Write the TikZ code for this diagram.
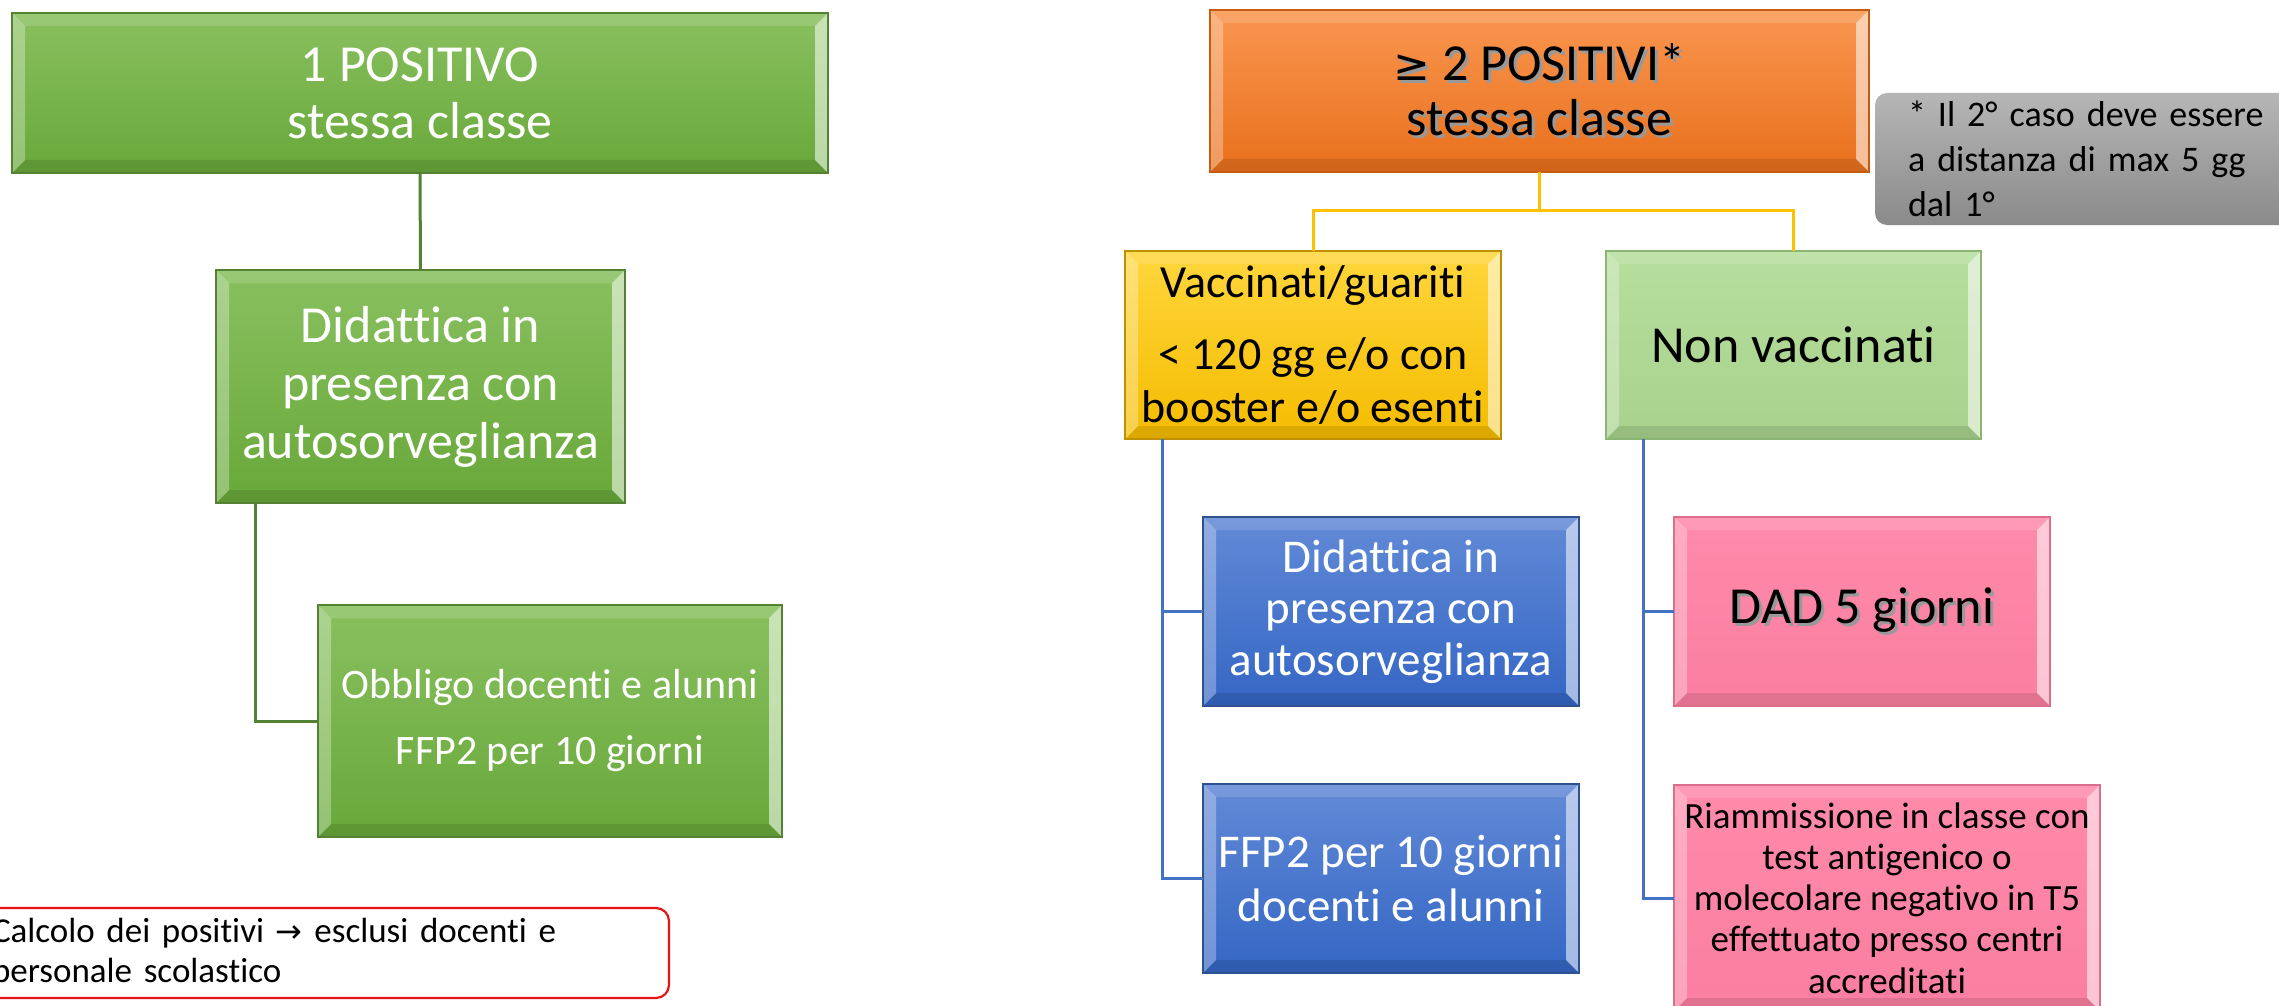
\documentclass[tikz,border=0pt]{standalone}
\usepackage{fontspec}
\setmainfont{Carlito}[Ligatures=NoCommon]
\newfontfamily\dejavu{DejaVu Sans}
\definecolor{gtop}{RGB}{137,192,95}
\definecolor{gbot}{RGB}{104,168,58}
\definecolor{gborder}{RGB}{84,130,53}
\definecolor{otop}{RGB}{250,150,80}
\definecolor{obot}{RGB}{232,112,28}
\definecolor{oborder}{RGB}{197,90,17}
\definecolor{ytop}{RGB}{255,214,60}
\definecolor{ybot}{RGB}{245,188,0}
\definecolor{yborder}{RGB}{191,144,0}
\definecolor{yconn}{RGB}{255,192,0}
\definecolor{lgtop}{RGB}{182,222,158}
\definecolor{lgbot}{RGB}{168,210,140}
\definecolor{lgborder}{RGB}{140,180,115}
\definecolor{btop}{RGB}{98,138,215}
\definecolor{bbot}{RGB}{52,102,196}
\definecolor{bborder}{RGB}{47,82,143}
\definecolor{bconn}{RGB}{68,114,196}
\definecolor{ptop}{RGB}{255,138,170}
\definecolor{pbot}{RGB}{250,126,160}
\definecolor{pborder}{RGB}{220,110,140}
\definecolor{grtop}{RGB}{182,182,182}
\definecolor{grbot}{RGB}{138,138,138}
\definecolor{rednote}{RGB}{230,20,20}
\newcommand{\shd}[1]{\leavevmode\rlap{\hspace{3pt}\raisebox{-3pt}{\textcolor{black!40}{#1}}}#1}
\begin{document}
\begin{tikzpicture}[x=1pt,y=-1pt,
  every node/.style={inner sep=0pt, outer sep=0pt, align=center},
  bevel/.style={path picture={
    \coordinate (bnw) at (path picture bounding box.north west);
    \coordinate (bse) at (path picture bounding box.south east);
    \coordinate (bsw) at (path picture bounding box.south west);
    \coordinate (bne) at (path picture bounding box.north east);
    \fill[white,opacity=0.14] (bnw) -- (bne) -- ([shift={(-13pt,-13pt)}]bne) -- ([shift={(13pt,-13pt)}]bnw) -- cycle;
    \fill[black,opacity=0.10] (bsw) -- (bse) -- ([shift={(-13pt,13pt)}]bse) -- ([shift={(13pt,13pt)}]bsw) -- cycle;
    \fill[white,opacity=0.30] (bnw) -- (bsw) -- ([shift={(13pt,13pt)}]bsw) -- ([shift={(13pt,-13pt)}]bnw) -- cycle;
    \fill[white,opacity=0.55] (bne) -- (bse) -- ([shift={(-13pt,13pt)}]bse) -- ([shift={(-13pt,-13pt)}]bne) -- cycle;
  }},
  box/.style n args={4}{top color=#1, bottom color=#2, draw=#3, text=#4, line width=1.2pt, bevel},
  gbox/.style={box={gtop}{gbot}{gborder}{white}},
  obox/.style={box={otop}{obot}{oborder}{black}},
  ybox/.style={box={ytop}{ybot}{yborder}{black}},
  lgbox/.style={box={lgtop}{lgbot}{lgborder}{black}},
  bbox/.style={box={btop}{bbot}{bborder}{white}},
  pbox/.style={box={ptop}{pbot}{pborder}{black}},
  gline/.style={draw=gborder, line width=3pt},
  yline/.style={draw=yconn, line width=3pt},
  bline/.style={draw=bconn, line width=3pt},
]
\useasboundingbox (0,0) rectangle (2279,1006);
\clip (0,0) rectangle (2279,1006);

% left column
\node[gbox, minimum width=816, minimum height=160, font=\fontsize{52}{57}\selectfont] (A) at (420,93)
  {1 POSITIVO\\stessa classe};
\node[gbox, minimum width=409, minimum height=233, font=\fontsize{52}{58}\selectfont] (B) at (420.5,386.5)
  {Didattica in\\presenza con\\autosorveglianza};
\node[gbox, minimum width=464, minimum height=232, font=\fontsize{42}{66}\selectfont] (C) at (550,721)
  {Obbligo docenti e alunni\\FFP2 per 10 giorni};
\node[draw=rednote, line width=2.2pt, fill=white, rounded corners=13pt, minimum width=699, minimum height=90,
  text width=655pt, inner xsep=22pt, align=left, font=\fontsize{35}{40}\selectfont] (N1) at (319.5,953)
  {Calcolo dei positivi {\dejavu\fontsize{32}{40}\selectfont →} esclusi docenti e\\personale scolastico};

\draw[gline] (A.south) -- (B.north);
\draw[gline] ([xshift=39pt]B.south west) |- (C.west);

% right part
\node[obox, minimum width=659, minimum height=162, font=\fontsize{52}{55}\selectfont] (D) at (1539.5,91)
  {\shd{{\dejavu\fontsize{44}{55}\selectfont ≥} 2 POSITIVI*}\\\shd{stessa classe}};
\node[top color=grtop, bottom color=grbot, rounded corners=12pt, minimum width=425, minimum height=132,
  text width=359pt, inner xsep=33pt, align=left, font=\fontsize{36}{45}\selectfont] (N2) at (2087.5,159)
  {* Il 2° caso deve essere\\a distanza di max 5 gg\\dal 1°};

\node[ybox, minimum width=376, minimum height=188, font=\fontsize{46}{53}\selectfont] (E) at (1313,345)
  {Vaccinati/guariti\\[19pt]< 120 gg e/o con\\booster e/o esenti};
\node[lgbox, minimum width=375, minimum height=188, font=\fontsize{52}{58}\selectfont] (F) at (1793.5,345)
  {Non vaccinati};

\node[bbox, minimum width=376, minimum height=189, font=\fontsize{47}{51.5}\selectfont] (G) at (1391,611.5)
  {Didattica in\\presenza con\\autosorveglianza};
\node[bbox, minimum width=376, minimum height=189, font=\fontsize{47}{54}\selectfont] (H) at (1391,878.5)
  {FFP2 per 10 giorni\\docenti e alunni};
\node[pbox, minimum width=376, minimum height=189, font=\fontsize{52}{58}\selectfont] (I) at (1862,611.5)
  {\shd{DAD 5 giorni}};
\node[pbox, minimum width=426, minimum height=226, font=\fontsize{37}{41.25}\selectfont] (J) at (1887,898)
  {Riammissione in classe con\\test antigenico o\\molecolare negativo in T5\\effettuato presso centri\\accreditati};

\coordinate (dj) at (1539.5,210);
\draw[yline] (D.south) -- (dj);
\draw[yline] (E.north) |- (dj) -| (F.north);
\draw[bline] ([xshift=37pt]E.south west) |- (G.west);
\draw[bline] ([xshift=37pt]E.south west) |- (H.west);
\draw[bline] ([xshift=37pt]F.south west) |- (I.west);
\draw[bline] ([xshift=37pt]F.south west) |- (J.west);
\end{tikzpicture}
\end{document}
